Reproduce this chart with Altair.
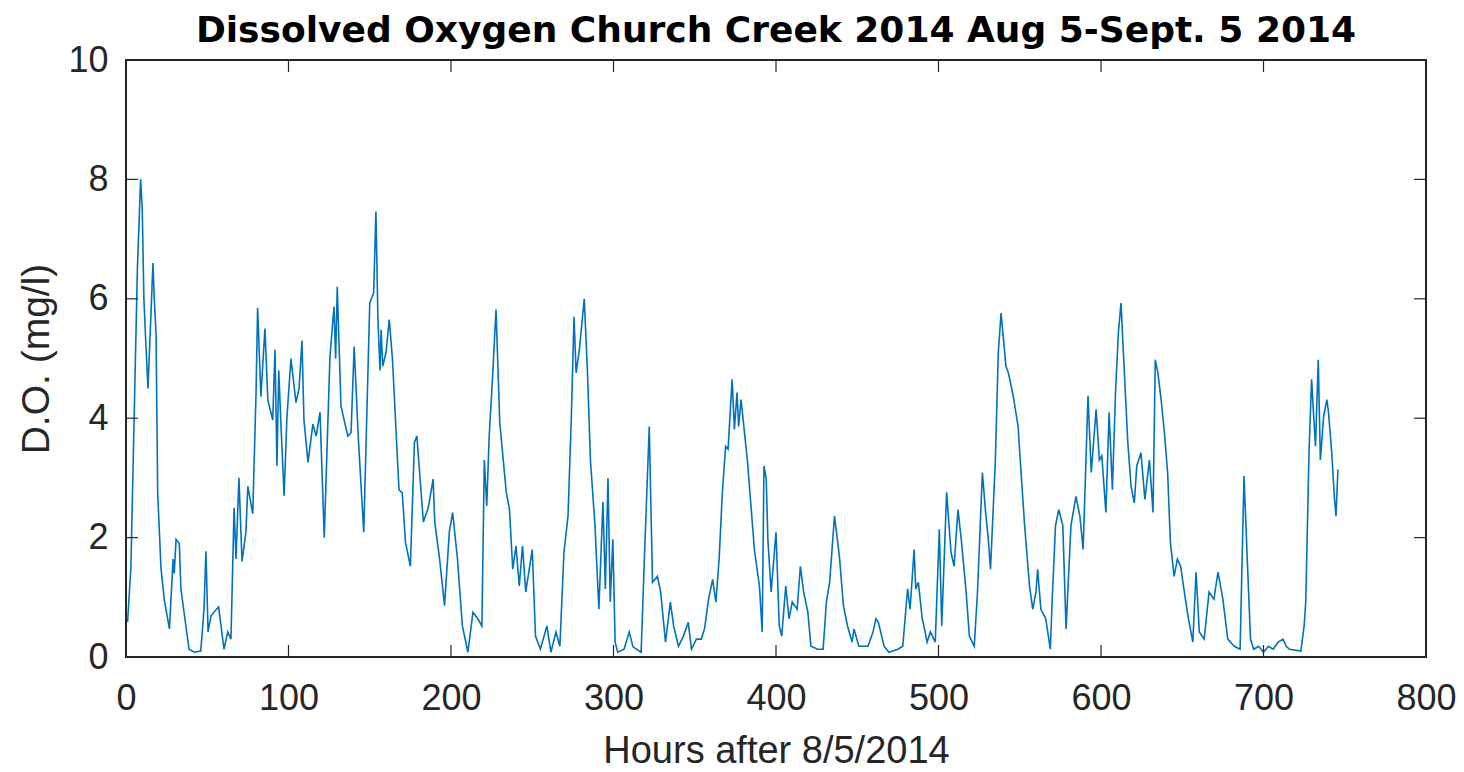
import altair as alt
import pandas as pd

# Hours after 8/5/2014 and dissolved oxygen readings (mg/l)
hours = [0, 1, 3, 5, 7, 9, 10, 11, 12.3, 13.5, 15, 16.6, 17.4, 18.5, 19.5, 21.5, 23.5, 26.7, 29, 29.7,
         30.8, 32.8, 33.8, 35.7, 38.8, 42, 46, 48, 49.2, 50.5, 52.3, 57, 60.3, 62.6, 64.6, 66.5, 67.7,
         69.5, 71.4, 73.8, 75, 78, 80, 81, 83, 85.5, 87.3, 90.3, 91.7, 92.9, 94, 95.4, 97.3, 99, 101.5,
         104.6, 106.5, 108.3, 109.5, 112, 115, 117, 119.4, 122, 125.5, 128, 129, 130, 132.3, 136.5,
         138.5, 140.4, 143, 146.3, 150, 152.4, 153.8, 155, 156.3, 157, 158, 160, 162, 164, 168, 170,
         172, 175, 177.5, 179, 183, 186, 189, 190, 193, 196, 199, 201, 204, 207, 210.4, 213.5, 216.5,
         219, 220.5, 222, 223.5, 225.6, 227.7, 230, 234, 236, 238, 240, 242, 244, 246, 250, 252, 255,
         259, 261.5, 264.6, 267, 269.5, 272, 274, 275.7, 277, 279, 282, 284, 285.8, 288.6, 291, 293.5,
         295, 296.6, 298, 299.6, 301, 302.6, 306.5, 309.7, 312, 317, 319, 322, 324, 327, 329, 332, 335,
         337, 340, 343, 346, 348, 351, 354, 356, 358.5, 361, 363, 365, 367, 369, 370.5, 373, 374.4,
         376, 377, 378.5, 382.5, 386.7, 389.8, 391.5, 392.6, 394, 395, 397, 400, 402, 403.5, 406, 408,
         410, 413, 415, 417, 419.6, 421.5, 425.6, 429, 431, 433, 436, 439, 441.5, 444, 446.8, 448, 451,
         456.6, 459.7, 461.5, 463, 466.5, 469.5, 475, 478, 481, 482.5, 485, 486, 487.6, 490, 491, 493,
         495, 498, 500.5, 502, 505, 507.7, 509.6, 512, 514, 517, 519, 522, 524, 527, 529, 530.5, 532,
         535, 536.8, 538.5, 541.5, 543, 546, 549, 550, 553, 556, 558, 560, 561, 563, 566, 568.8, 570,
         572, 574, 576.5, 578.5, 581.5, 584.6, 587, 589, 592, 594, 597, 599, 600.5, 603, 605, 607, 609,
         610.7, 612.3, 614, 616.5, 618.5, 620.5, 622, 624.6, 627, 629.8, 632, 633.4, 635, 637, 639, 641,
         642.7, 645, 647, 649, 651, 653.5, 656.5, 658.5, 660.5, 663.5, 666.5, 669.5, 672, 675, 678, 682,
         685.6, 688, 690, 692, 694, 697, 700, 703, 706, 709, 712, 714, 716, 723, 725, 726, 728, 729.6,
         731, 732, 733.7, 735, 737, 739, 740, 742, 743.7, 744.6, 745.8]
do_values = [0.6, 0.6, 1.5, 4.0, 6.5, 8.0, 7.5, 6.0, 5.2, 4.5, 5.5, 6.6, 6.0, 5.4, 2.75, 1.5, 0.97, 0.47, 1.64, 1.4,
             1.97, 1.9, 1.14, 0.75, 0.13, 0.08, 0.1, 0.8, 1.77, 0.42, 0.69, 0.84, 0.13, 0.42, 0.3, 2.5, 1.64,
             3.0, 1.6, 2.1, 2.86, 2.4, 4.4, 5.85, 4.36, 5.5, 4.3, 3.97, 5.15, 3.2, 4.8, 3.86, 2.7, 4.0, 5.0,
             4.26, 4.5, 5.3, 3.97, 3.26, 3.9, 3.7, 4.1, 2.0, 5.03, 5.87, 5.0, 6.2, 4.2, 3.7,
             3.76, 5.2, 3.65, 2.09, 5.93, 6.1, 7.46, 5.7, 4.8, 5.48, 4.87, 5.1, 5.65, 4.98, 2.8, 2.75,
             1.92, 1.52, 3.6, 3.7, 2.26, 2.5, 2.98, 2.26, 1.64, 0.86, 2.1, 2.42, 1.64, 0.52, 0.08, 0.75, 0.64,
             0.52, 3.3, 2.53, 3.7, 4.7, 5.82, 3.93, 2.76, 2.47, 1.47, 1.86, 1.19, 1.86, 1.09, 1.8, 0.35, 0.13,
             0.52, 0.08, 0.42, 0.18, 1.75, 2.36, 3.97, 5.7, 4.76, 5.15, 6.0, 4.76, 3.3, 2.2, 0.8, 2.6,
             1.14, 3.0, 0.92, 1.97, 0.25, 0.08, 0.13, 0.42, 0.17, 0.08, 1.64, 3.86, 1.25, 1.35, 1.09, 0.25, 0.92,
             0.52, 0.18, 0.35, 0.58, 0.13, 0.3, 0.3, 0.47, 0.97, 1.3, 0.92, 1.64, 2.76, 3.53, 3.48, 4.65, 3.81,
             4.43, 3.86, 4.31, 3.26, 1.8, 1.19, 0.42, 3.2, 2.98, 1.97, 1.09, 2.09, 0.52, 0.35, 1.19, 0.64,
             0.92, 0.8, 1.52, 1.09, 0.75, 0.18, 0.13, 0.13, 0.92, 1.25, 2.36, 1.69, 0.86, 0.52, 0.25, 0.47, 0.18,
             0.18, 0.42, 0.64, 0.58, 0.18, 0.08, 0.13, 0.18, 1.14, 0.8, 1.8, 1.14, 1.25, 0.64, 0.52, 0.25,
             0.42, 0.25, 2.14, 0.52, 2.76, 1.75, 1.52, 2.47, 1.97, 1.09, 0.35, 0.18, 1.09, 3.09, 2.42, 2.02, 1.47,
             3.3, 5.1, 5.76, 4.87, 4.76, 4.37, 3.86, 3.42, 2.2, 1.19, 0.8, 1.09, 1.47, 0.8, 0.64, 0.13, 0.97,
             2.2, 2.47, 2.2, 0.47, 2.2, 2.69, 2.36, 1.8, 4.37, 3.09, 4.15, 3.3, 3.37, 2.42, 4.1, 2.8, 4.48,
             5.43, 5.93, 4.98, 3.59, 2.86, 2.58, 3.2, 3.42, 2.64, 3.3, 2.42, 4.98, 4.76, 4.31, 3.76, 3.09,
             1.92, 1.35, 1.64, 1.52, 1.14, 0.69, 0.25, 1.42, 0.42, 0.3, 1.09, 0.97, 1.42, 0.97, 0.3, 0.18,
             0.13, 3.03, 1.64, 0.3, 0.13, 0.18, 0.08, 0.18, 0.13, 0.25, 0.3, 0.18, 0.13, 0.1, 0.52, 0.92, 3.42, 4.65,
             3.98, 3.53, 4.98, 3.3, 4.03, 4.31, 4.1, 3.42, 2.64, 2.36, 3.14]

x_ticks = [0, 100, 200, 300, 400, 500, 600, 700, 800]
y_ticks = [0, 2, 4, 6, 8, 10]

W, H = 1300, 597
TICK = 12
INK = "#262626"
FONT = "Liberation Sans"

df = pd.DataFrame({"h": hours, "do": do_values})
xt = pd.DataFrame({"h": x_ticks})
yt = pd.DataFrame({"do": y_ticks})

xs = alt.Scale(domain=[0, 800], nice=False, zero=False)
ys = alt.Scale(domain=[0, 10], nice=False, zero=False)

x_axis = alt.Axis(values=x_ticks, title="Hours after 8/5/2014", grid=False, ticks=False, domain=False,
                  labelFontSize=36, labelColor=INK, labelFont=FONT, labelPadding=24,
                  titleFontSize=38, titleFontWeight="normal", titleColor=INK, titleFont=FONT,
                  titlePadding=16, labelFlush=False)
y_axis = alt.Axis(values=y_ticks, title="D.O. (mg/l)", grid=False, ticks=False, domain=False,
                  labelFontSize=36, labelColor=INK, labelFont=FONT, labelPadding=18,
                  titleFontSize=39, titleFontWeight="normal", titleColor=INK, titleFont=FONT,
                  titlePadding=11, labelFlush=False)

line = alt.Chart(df).mark_line(color="#0072BD", strokeWidth=1.6, clip=True).encode(
    x=alt.X("h:Q", scale=xs, axis=x_axis),
    y=alt.Y("do:Q", scale=ys, axis=y_axis),
)

bottom_ticks = alt.Chart(xt).mark_rule(color=INK, strokeWidth=1.2).encode(
    x=alt.X("h:Q", scale=xs, axis=x_axis), y=alt.value(H), y2=alt.value(H - TICK))
top_ticks = alt.Chart(xt).mark_rule(color=INK, strokeWidth=1.2).encode(
    x=alt.X("h:Q", scale=xs, axis=x_axis), y=alt.value(0), y2=alt.value(TICK))
left_ticks = alt.Chart(yt).mark_rule(color=INK, strokeWidth=1.2).encode(
    y=alt.Y("do:Q", scale=ys, axis=y_axis), x=alt.value(0), x2=alt.value(TICK))
right_ticks = alt.Chart(yt).mark_rule(color=INK, strokeWidth=1.2).encode(
    y=alt.Y("do:Q", scale=ys, axis=y_axis), x=alt.value(W), x2=alt.value(W - TICK))

frame = alt.Chart(xt).mark_rect(fill=None, stroke=INK, strokeWidth=1.5).encode(
    x=alt.value(0), x2=alt.value(W), y=alt.value(0), y2=alt.value(H))

chart = alt.layer(line, bottom_ticks, top_ticks, left_ticks, right_ticks, frame).properties(
    width=W, height=H,
    title=alt.TitleParams("Dissolved Oxygen Church Creek 2014 Aug 5-Sept. 5 2014",
                          fontSize=36, fontWeight="bold", color="#000000", font="DejaVu Sans",
                          anchor="middle", offset=-8),
    autosize=alt.AutoSizeParams(type="none"),
    padding={"left": 118, "top": 52, "right": 30, "bottom": 112},
).configure_view(strokeWidth=0).configure(background="white")

chart.save("out.html", embed_options={"renderer": "svg", "actions": False})
